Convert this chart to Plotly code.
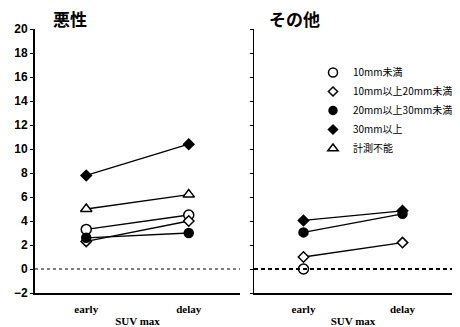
import plotly.graph_objects as go

# categories and tick labels
timepoints = ["early", "delay"]
y_ticks = list(range(-2, 21, 2))

# SUVmax, malignant group
mal_lt10 = [3.3, 4.5]
mal_10_20 = [2.3, 4.0]
mal_20_30 = [2.6, 3.0]
mal_ge30 = [7.8, 10.4]
mal_unmeasured = [5.0, 6.2]

# SUVmax, other group
oth_lt10 = [0.0, None]
oth_10_20 = [1.0, 2.2]
oth_20_30 = [3.05, 4.6]
oth_ge30 = [4.05, 4.85]

series_names = ["10mm未満", "10mm以上20mm未満", "20mm以上30mm未満", "30mm以上", "計測不能"]
symbols = ["circle", "diamond", "circle", "diamond", "triangle-up"]
fills = ["white", "white", "black", "black", "white"]
sizes = [10, 8, 9, 8, 10]

mal_data = [mal_lt10, mal_10_20, mal_20_30, mal_ge30, mal_unmeasured]
oth_data = [oth_lt10, oth_10_20, oth_20_30, oth_ge30, None]

fig = go.Figure()


def add_series(vals, name, sym, fill, sz, xa, ya):
    fig.add_trace(go.Scatter(
        x=timepoints, y=vals, mode="lines+markers", name=name, showlegend=False,
        line=dict(color="black", width=1.3),
        marker=dict(symbol=sym, size=sz, color=fill, line=dict(color="black", width=1.5)),
        xaxis=xa, yaxis=ya,
    ))


for name, sym, fill, sz, vals in zip(series_names, symbols, fills, sizes, mal_data):
    add_series(vals, name, sym, fill, sz, "x", "y")

for name, sym, fill, sz, vals in zip(series_names, symbols, fills, sizes, oth_data):
    if vals is not None:
        add_series(vals, name, sym, fill, sz, "x2", "y2")

# legend entries (markers only)
for name, sym, fill, sz in zip(series_names, symbols, fills, sizes):
    fig.add_trace(go.Scatter(
        x=[None], y=[None], mode="markers", name=name, showlegend=True,
        marker=dict(symbol=sym, size=sz - 1, color=fill, line=dict(color="black", width=1.5)),
        xaxis="x2", yaxis="y2",
    ))

# zero reference lines
fig.add_shape(type="line", xref="x domain", yref="y", x0=0, x1=1, y0=0, y1=0,
              line=dict(color="black", width=1, dash="3px,3px"))
fig.add_shape(type="line", xref="x2 domain", yref="y2", x0=0, x1=1, y0=0, y1=0,
              line=dict(color="black", width=2, dash="4px,3px"))

tick_font = dict(family="Liberation Sans Narrow, Arial Narrow, Liberation Sans, sans-serif",
                 size=12, color="black", weight="bold")
cat_font = dict(family="Liberation Serif, DejaVu Serif, serif", size=11, color="black", weight="bold")

W, H = 460, 327
ydom = [(H - 293) / H, (H - 29) / H]

fig.update_layout(
    width=W, height=H, margin=dict(l=0, r=0, t=0, b=0, autoexpand=False),
    plot_bgcolor="white", paper_bgcolor="white",
    showlegend=True,
    legend=dict(x=313 / W, y=1 - 58 / H, xanchor="left", yanchor="top",
                bgcolor="rgba(0,0,0,0)",
                font=dict(family="Noto Sans CJK JP", size=10, color="black"),
                itemwidth=30),
    xaxis=dict(domain=[35 / W, 240 / W], type="category", range=[-0.5, 1.5],
               showline=True, linecolor="black", linewidth=2, ticks="",
               tickfont=cat_font, showgrid=False, zeroline=False, automargin=False,
               ticklabelstandoff=5,
               title=dict(text="SUV max", font=cat_font, standoff=4)),
    yaxis=dict(domain=ydom, range=[-2, 20], tickvals=y_ticks,
               showline=True, linecolor="black", linewidth=2, ticks="outside",
               ticklen=3, tickcolor="black", tickfont=tick_font, automargin=False,
               showgrid=False, zeroline=False),
    xaxis2=dict(domain=[254 / W, 452 / W], type="category", range=[-0.5, 1.5],
                anchor="y2", showline=True, linecolor="black", linewidth=2, ticks="",
                tickfont=cat_font, showgrid=False, zeroline=False, automargin=False,
                ticklabelstandoff=5,
                title=dict(text="SUV max", font=cat_font, standoff=4)),
    yaxis2=dict(domain=ydom, range=[-2, 20], tickvals=y_ticks, anchor="x2",
                showline=True, linecolor="black", linewidth=1, ticks="outside",
                ticklen=3, tickcolor="black", showticklabels=False, automargin=False,
                showgrid=False, zeroline=False),
    annotations=[
        dict(text="<b>悪性</b>", x=70 / W, y=1 - 18 / H, xref="paper", yref="paper",
             xanchor="center", yanchor="middle",
             showarrow=False, font=dict(family="Noto Sans CJK JP", size=17, color="black")),
        dict(text="<b>その他</b>", x=294 / W, y=1 - 18 / H, xref="paper", yref="paper",
             xanchor="center", yanchor="middle",
             showarrow=False, font=dict(family="Noto Sans CJK JP", size=17, color="black")),
    ],
)

fig.write_html("out.html")
